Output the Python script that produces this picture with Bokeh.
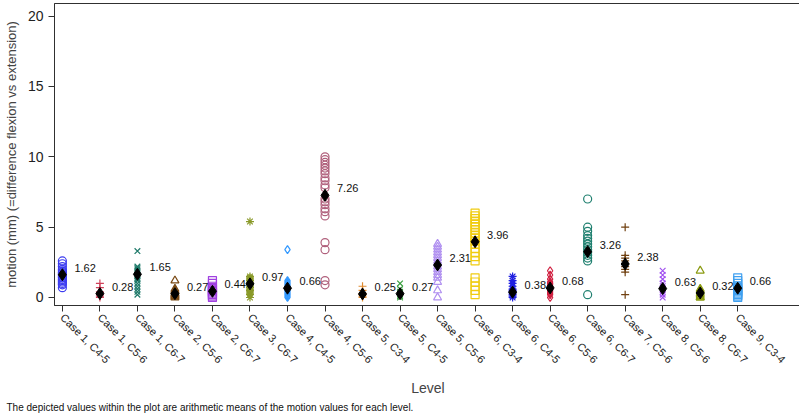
import math
from bokeh.plotting import figure
from bokeh.models import FixedTicker, Range1d, Title, ColumnDataSource, LabelSet
from bokeh.core.properties import value
from bokeh.embed import file_html
from bokeh.resources import INLINE

categories = ["Case 1, C4-5", "Case 1, C5-6", "Case 1, C6-7", "Case 2, C5-6", "Case 2, C6-7",
              "Case 3, C6-7", "Case 4, C4-5", "Case 4, C5-6", "Case 5, C3-4", "Case 5, C4-5",
              "Case 5, C5-6", "Case 6, C3-4", "Case 6, C4-5", "Case 6, C5-6", "Case 6, C6-7",
              "Case 7, C5-6", "Case 8, C5-6", "Case 8, C6-7", "Case 9, C3-4"]

means = [1.62, 0.28, 1.65, 0.27, 0.44, 0.97, 0.66, 7.26, 0.25, 0.27,
         2.31, 3.96, 0.38, 0.68, 3.26, 2.38, 0.63, 0.32, 0.66]

case1_c45 = [2.6, 2.4, 2.2, 2.0, 1.9, 1.8, 1.7, 1.6, 1.5, 1.4, 1.3, 1.2, 1.1, 1.0, 0.9, 0.7]
case1_c56 = [1.0, 0.7, 0.4, 0.3, 0.2, 0.1, 0.0]
case1_c67 = [3.3, 2.2, 2.1, 2.0, 1.9, 1.8, 1.6, 1.5, 1.4, 1.3, 1.2, 1.0, 0.8, 0.6, 0.4, 0.2]
case2_c56 = [1.2, 0.6, 0.5, 0.4, 0.3, 0.25, 0.2, 0.15, 0.1, 0.05, 0.0]
case2_c67 = [1.2, 1.0, 0.8, 0.7, 0.6, 0.5, 0.4, 0.3, 0.2, 0.1, 0.0]
case3_c67 = [5.4, 1.5, 1.4, 1.3, 1.2, 1.1, 1.0, 0.9, 0.8, 0.7, 0.6, 0.5, 0.4, 0.3, 0.2, 0.0]
case4_c45 = [3.4, 1.2, 1.1, 1.0, 0.9, 0.8, 0.7, 0.6, 0.5, 0.4, 0.3, 0.2, 0.1, 0.0]
case4_c56 = [10.0, 9.8, 9.6, 9.4, 9.2, 9.0, 8.8, 8.5, 8.3, 8.0, 7.8, 7.0, 6.8, 6.6, 6.3, 6.1, 5.8, 3.9, 3.4, 1.2, 0.9]
case5_c34 = [0.8, 0.5, 0.3, 0.2, 0.1, 0.0]
case5_c45 = [1.0, 0.6, 0.4, 0.3, 0.2, 0.1, 0.0]
case5_c56 = [3.8, 3.6, 3.4, 3.2, 3.0, 2.8, 2.6, 2.4, 2.2, 2.0, 1.8, 1.6, 1.4, 1.1, 0.5, 0.0]
case6_c34 = [6.0, 5.8, 5.6, 5.4, 5.2, 5.0, 4.8, 4.6, 4.4, 4.2, 4.0, 3.8, 3.5, 3.2, 2.9, 2.6, 1.4, 1.1, 0.8, 0.5, 0.2]
case6_c45 = [1.5, 1.2, 1.0, 0.8, 0.6, 0.5, 0.4, 0.3, 0.2, 0.1, 0.0]
case6_c56 = [1.9, 1.6, 1.3, 1.1, 1.0, 0.9, 0.8, 0.7, 0.6, 0.5, 0.4, 0.3, 0.2, 0.0]
case6_c67 = [7.0, 5.0, 4.7, 4.4, 4.2, 4.0, 3.8, 3.6, 3.4, 3.2, 3.0, 2.8, 2.6, 0.2]
case7_c56 = [5.0, 3.0, 2.8, 2.6, 2.4, 2.2, 2.0, 1.8, 0.2]
case8_c56 = [1.9, 1.6, 1.3, 1.0, 0.8, 0.6, 0.4, 0.2, 0.0]
case8_c67 = [1.9, 0.6, 0.5, 0.4, 0.3, 0.2, 0.1, 0.0, 0.0]
case9_c34 = [1.4, 1.2, 1.0, 0.8, 0.7, 0.6, 0.5, 0.4, 0.3, 0.2, 0.1, 0.0]

level_values = [case1_c45, case1_c56, case1_c67, case2_c56, case2_c67, case3_c67, case4_c45,
                case4_c56, case5_c34, case5_c45, case5_c56, case6_c34, case6_c45, case6_c56,
                case6_c67, case7_c56, case8_c56, case8_c67, case9_c34]

markers = ["circle", "cross", "x", "triangle", "square", "asterisk", "diamond", "circle",
           "cross", "x", "triangle", "square", "asterisk", "diamond", "circle", "cross",
           "x", "triangle", "square"]
colors = ["#3c3cf0", "#d0405a", "#1f7a6a", "#7a4a14", "#a040e0", "#8a9a2a", "#3399ff",
          "#b0607c", "#e08a30", "#3aa040", "#b090f0", "#f0cc10", "#2020e0", "#d02040",
          "#208070", "#704010", "#a050f0", "#8a9a10", "#40a0f0"]

FONT = "Liberation Sans"

p = figure(frame_width=747, frame_height=302,
           x_range=Range1d(-0.21, 19.7), y_range=Range1d(-0.57, 20.9),
           output_backend="svg", toolbar_location=None,
           min_border_left=50, min_border_right=2, min_border_top=3, min_border_bottom=0)
p.styles = {"margin-left": "0px", "margin-top": "0px"}
p.background_fill_color = "white"
p.border_fill_color = "white"
p.outline_line_color = "#303030"
p.outline_line_width = 1
p.grid.visible = False

for i, vals in enumerate(level_values):
    src = ColumnDataSource(dict(x=[i] * len(vals), y=vals))
    p.scatter("x", "y", source=src, marker=markers[i], size=8,
              line_color=colors[i], fill_color=None, line_width=1.2)

msrc = ColumnDataSource(dict(x=list(range(len(means))), y=means,
                             t=["%.2f" % m for m in means]))
p.scatter("x", "y", source=msrc, marker="diamond", size=12,
          fill_color="black", line_color="black")
labels = LabelSet(x="x", y="y", text="t", source=msrc, x_offset=12, y_offset=3,
                  text_font=value(FONT), text_font_size=value("11px"), text_color="#111111",
                  text_baseline="bottom")
p.add_layout(labels)

p.xaxis.ticker = FixedTicker(ticks=list(range(len(categories))))
p.xaxis.major_label_overrides = {i: c for i, c in enumerate(categories)}
p.xaxis.major_label_orientation = -math.pi / 4
p.xaxis.major_label_text_font = FONT
p.xaxis.major_label_text_font_size = "11px"
p.xaxis.major_label_text_color = "#222222"
p.xaxis.major_label_standoff = 4
p.xaxis.axis_label = "Level"
p.xaxis.axis_label_text_font = FONT
p.xaxis.axis_label_text_font_size = "14px"
p.xaxis.axis_label_text_font_style = "normal"
p.xaxis.axis_label_standoff = 7

p.yaxis.ticker = FixedTicker(ticks=[0, 5, 10, 15, 20])
p.yaxis.major_label_text_font = FONT
p.yaxis.major_label_text_font_size = "14px"
p.yaxis.major_label_text_color = "#222222"
p.yaxis.axis_label = "motion (mm) (=difference flexion vs extension)"
p.yaxis.axis_label_text_font = FONT
p.yaxis.axis_label_text_font_size = "13px"
p.yaxis.axis_label_text_font_style = "normal"
p.yaxis.axis_label_standoff = 6

for ax in (p.xaxis, p.yaxis):
    ax.axis_line_color = "#303030"
    ax.major_tick_line_color = "#303030"
    ax.major_tick_out = 6
    ax.major_tick_in = 0
    ax.minor_tick_line_color = None

note = Title(text="The depicted values within the plot are arithmetic means of the motion values for each level.",
             align="left", text_font=FONT, text_font_size="10px", text_font_style="normal",
             text_color="#111111", offset=-48, standoff=2)
p.add_layout(note, "below")

open("out.html", "w").write(file_html(p, INLINE))
